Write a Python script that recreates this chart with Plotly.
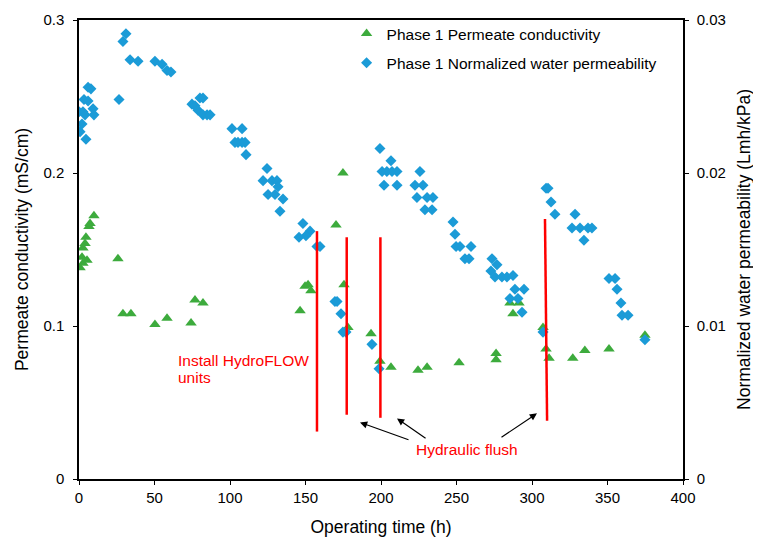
import plotly.graph_objects as go

# Phase 1 permeate conductivity (mS/cm) vs operating time (h)
cond_time = [0.7, 2.0, 2.6, 2.6, 4.0, 4.6, 5.3, 6.6, 7.3, 9.9, 25.8, 29.1, 34.4, 50.3, 58.3,
             74.2, 76.8, 82.1, 146.4, 149.7, 151.7, 153.6, 170.2, 174.8, 175.5, 178.1, 193.4,
             199.3, 206.6, 224.5, 230.5, 251.7, 276.2, 276.2, 285.4, 287.4, 291.4, 307.3, 309.3,
             311.3, 327.0, 335.0, 351.0, 374.8]
cond_vals = [0.138, 0.145, 0.141, 0.151, 0.154, 0.158, 0.143, 0.165, 0.167, 0.172, 0.144, 0.108,
             0.108, 0.101, 0.105, 0.102, 0.117, 0.115, 0.110, 0.126, 0.127, 0.123, 0.166, 0.200,
             0.127, 0.099, 0.095, 0.077, 0.073, 0.071, 0.073, 0.076, 0.078, 0.082, 0.115, 0.108,
             0.115, 0.099, 0.085, 0.079, 0.079, 0.084, 0.085, 0.094]

# Phase 1 normalized water permeability (Lmh/kPa) vs operating time (h)
perm_time = [0.0, 0.7, 2.0, 2.6, 3.3, 4.0, 4.6, 6.0, 6.0, 7.9, 9.3, 9.9, 26.5, 29.1, 31.1, 33.8,
             39.1, 50.3, 55.0, 58.3, 60.9, 74.8, 76.8, 78.8, 80.1, 82.1, 82.1, 84.8, 86.8, 101.3,
             108.0, 103.3, 105.3, 108.0, 110.0, 110.6, 124.5, 121.9, 127.8, 131.1, 131.8, 125.2,
             129.8, 135.1, 133.1, 148.3, 153.0, 150.3, 145.7, 157.6, 159.6, 169.5, 170.9, 173.5,
             174.8, 176.8, 194.0, 198.7, 199.3, 206.6, 200.7, 203.9, 207.3, 210.6, 202.0, 210.6,
             225.8, 222.5, 227.8, 223.8, 230.5, 234.4, 229.1, 233.8, 247.7, 249.0, 249.7, 252.3,
             259.6, 255.6, 258.3, 273.5, 276.8, 272.8, 275.5, 280.1, 283.4, 287.4, 288.7, 294.7,
             285.4, 290.7, 293.4, 307.3, 309.3, 310.6, 312.6, 315.2, 328.5, 326.5, 331.8, 337.1,
             339.7, 334.4, 351.0, 355.0, 356.3, 358.9, 359.6, 363.6, 374.8]
perm_vals = [0.0240, 0.0227, 0.0232, 0.0240, 0.0248, 0.0238, 0.0222, 0.0256, 0.0247, 0.0255,
             0.0242, 0.0238, 0.0248, 0.0286, 0.0291, 0.0274, 0.0273, 0.0273, 0.0271, 0.0267,
             0.0266, 0.0245, 0.0244, 0.0241, 0.0249, 0.0249, 0.0238, 0.0238, 0.0238, 0.0229,
             0.0229, 0.0220, 0.0220, 0.0220, 0.0220, 0.0212, 0.0203, 0.0195, 0.0195, 0.0195,
             0.0191, 0.0186, 0.0186, 0.0183, 0.0175, 0.0167, 0.0162, 0.0159, 0.0158, 0.0152,
             0.0152, 0.0116, 0.0116, 0.0108, 0.0096, 0.0096, 0.0088, 0.0072, 0.0216, 0.0208,
             0.0201, 0.0201, 0.0201, 0.0201, 0.0192, 0.0192, 0.0201, 0.0192, 0.0192, 0.0184,
             0.0184, 0.0184, 0.0176, 0.0176, 0.0168, 0.0160, 0.0152, 0.0152, 0.0152, 0.0144,
             0.0144, 0.0144, 0.0140, 0.0136, 0.0132, 0.0132, 0.0132, 0.0133, 0.0124, 0.0124,
             0.0118, 0.0118, 0.0109, 0.0096, 0.0190, 0.0190, 0.0181, 0.0173, 0.0173, 0.0164,
             0.0164, 0.0164, 0.0164, 0.0156, 0.0131, 0.0131, 0.0124, 0.0115, 0.0107, 0.0107,
             0.0091]

# Event markers (vertical red lines), in time (h) and left-axis units
event_x_top = [157.6, 177.3, 199.6, 308.6]
event_x_bot = [157.6, 177.3, 199.6, 310.0]
event_y_top = [0.162, 0.158, 0.158, 0.170]
event_y_bot = [0.031, 0.042, 0.040, 0.038]

# Arrows for "Hydraulic flush": (tail x, tail y) -> (head x, head y)
arrow_tail_x = [219.2, 230.5, 278.8]
arrow_tail_y = [0.0253, 0.0260, 0.0266]
arrow_head_x = [186.1, 210.6, 303.3]
arrow_head_y = [0.0370, 0.0396, 0.0429]

x_ticks = [0, 50, 100, 150, 200, 250, 300, 350, 400]
y_ticks = [0, 0.1, 0.2, 0.3]
y2_ticks = [0, 0.01, 0.02, 0.03]

FONT = "Liberation Sans, Arial, sans-serif"
GREEN = "#3dab3d"
BLUE = "#1b9bd7"
RED = "#ff0000"

fig = go.Figure()
fig.add_trace(go.Scatter(
    x=cond_time, y=cond_vals, mode="markers", name="Phase 1 Permeate conductivity",
    legendgroup="a",
    marker=dict(symbol="triangle-up", size=10, color=GREEN), yaxis="y"))
fig.add_trace(go.Scatter(
    x=perm_time, y=perm_vals, mode="markers", name="Phase 1 Normalized water permeability",
    legendgroup="b",
    marker=dict(symbol="diamond", size=8.5, color=BLUE), yaxis="y2"))

shapes = []
for x0, x1, y0, y1 in zip(event_x_bot, event_x_top, event_y_bot, event_y_top):
    shapes.append(dict(type="line", xref="x", yref="y", x0=x0, x1=x1, y0=y0, y1=y1,
                       line=dict(color=RED, width=2.5)))

annotations = [
    dict(x=64.3, y=0.0773, xref="x", yref="y", text="Install HydroFLOW",
         showarrow=False, xanchor="left", yanchor="middle", align="left",
         font=dict(family=FONT, size=15.5, color=RED)),
    dict(x=64.3, y=0.0662, xref="x", yref="y", text="units",
         showarrow=False, xanchor="left", yanchor="middle", align="left",
         font=dict(family=FONT, size=15.5, color=RED)),
    dict(x=257, y=0.0192, xref="x", yref="y", text="Hydraulic flush",
         showarrow=False, xanchor="center", yanchor="middle",
         font=dict(family=FONT, size=15.5, color=RED)),
]
for tx, ty, hx, hy in zip(arrow_tail_x, arrow_tail_y, arrow_head_x, arrow_head_y):
    annotations.append(dict(x=hx, y=hy, ax=tx, ay=ty, xref="x", yref="y", axref="x", ayref="y",
                            text="", showarrow=True, arrowhead=2, arrowsize=1.2,
                            arrowwidth=1.2, arrowcolor="#000000"))

axis_common = dict(showline=True, linecolor="#000000", linewidth=1.5, ticks="outside",
                   ticklen=4, tickcolor="#000000", showgrid=False, zeroline=False,
                   automargin=False,
                   tickfont=dict(family=FONT, size=15, color="#000000"))
TITLE_FONT = dict(family=FONT, size=17.5, color="#000000")

# The page body adds an 8px offset, so the figure is sized to fit the 761x538 window.
fig.update_layout(
    width=753, height=530,
    margin=dict(l=71, r=78, t=9, b=59),
    paper_bgcolor="white", plot_bgcolor="white",
    font=dict(family=FONT, size=15, color="#000000"),
    showlegend=True,
    legend=dict(x=0.443, y=1.0065, xanchor="left", yanchor="top", bgcolor="rgba(0,0,0,0)",
                font=dict(family=FONT, size=15.5, color="#000000"),
                traceorder="grouped", tracegroupgap=6, itemwidth=30),
    xaxis=dict(range=[0, 400], tickvals=x_ticks, mirror=True,
               title=dict(text="Operating time (h)", font=TITLE_FONT, standoff=16),
               **axis_common),
    yaxis=dict(range=[0, 0.3], tickvals=y_ticks, ticktext=[str(v) for v in y_ticks],
               ticklabelstandoff=6,
               title=dict(text="Permeate conductivity (mS/cm)", font=TITLE_FONT, standoff=10),
               **axis_common),
    yaxis2=dict(range=[0, 0.03], tickvals=y2_ticks, ticktext=[str(v) for v in y2_ticks],
                overlaying="y", side="right", ticklabelstandoff=5,
                title=dict(text="Normalized water permeability (Lmh/kPa)", font=TITLE_FONT,
                           standoff=13),
                **axis_common),
    shapes=shapes,
    annotations=annotations,
)

fig.write_html("out.html")
